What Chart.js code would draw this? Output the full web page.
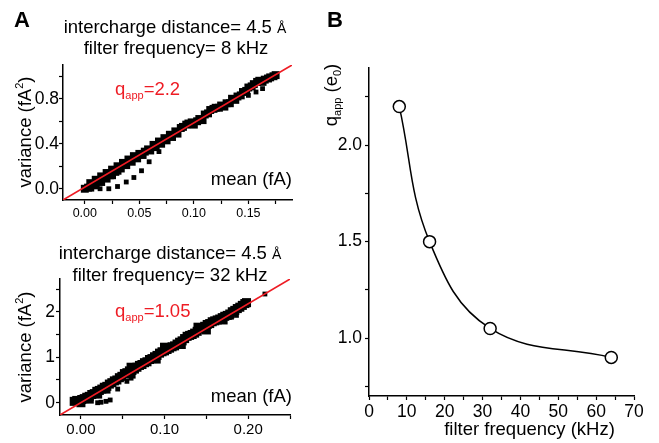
<!DOCTYPE html>
<html><head><meta charset="utf-8">
<script src="https://cdn.jsdelivr.net/npm/chart.js@4.4.1/dist/chart.umd.min.js"></script>
<style>
html,body{margin:0;padding:0;background:#fff;}
body{width:659px;height:443px;position:relative;overflow:hidden;}
canvas{position:absolute;}
</style></head><body>
<canvas id="c1" width="330" height="220" style="left:0px;top:0px"></canvas>
<canvas id="c2" width="330" height="223" style="left:0px;top:220px"></canvas>
<canvas id="c3" width="339" height="443" style="left:320px;top:0px"></canvas>
<script>
// ---------- DATA ----------
// Panel A top (8 kHz): mean (fA) vs variance (fA^2) — dense band
const topMean = [0.000,0.003,0.005,0.008,0.010,0.013,0.015,0.018,0.020,0.023,0.025,0.028,0.030,0.033,0.035,0.038,0.040,0.043,0.045,0.048,0.050,0.053,0.055,0.058,0.060,0.063,0.065,0.068,0.070,0.073,0.075,0.078,0.080,0.083,0.085,0.088,0.090,0.093,0.095,0.098,0.100,0.103,0.105,0.108,0.110,0.113,0.115,0.118,0.120,0.123,0.125,0.128,0.130,0.133,0.135,0.138,0.140,0.143,0.145,0.148,0.150,0.153,0.155,0.158,0.160,0.163,0.165,0.168,0.170,0.173,0.175,
  0.005,0.010,0.015,0.020,0.025,0.030];
const topVar = [0.00,0.01,0.05,0.04,0.08,0.07,0.11,0.10,0.14,0.12,0.17,0.15,0.20,0.18,0.23,0.21,0.26,0.24,0.29,0.27,0.31,0.30,0.33,0.35,0.34,0.39,0.37,0.42,0.40,0.45,0.43,0.48,0.46,0.51,0.49,0.54,0.55,0.57,0.58,0.59,0.57,0.60,0.62,0.61,0.66,0.67,0.70,0.71,0.72,0.72,0.74,0.73,0.76,0.76,0.80,0.79,0.82,0.83,0.86,0.87,0.90,0.91,0.93,0.95,0.96,0.95,0.97,0.98,0.99,1.00,1.01,
  0.01,0.03,0.06,0.09,0.12,0.16];
// Panel A top — scattered points off the band
const topOutMean = [0.014,0.022,0.030,0.038,0.045,0.052,0.059,0.068,0.150,0.157,0.163];
const topOutVar = [0.00,0.00,0.02,0.06,0.10,0.16,0.24,0.33,0.83,0.86,0.89];
const topFitMean = [-0.02, 0.19];
const topFitVar = [-0.10, 1.10];

// Panel A bottom (32 kHz) — dense band
const botMean = [-0.008,-0.005,-0.002,0.001,0.004,0.007,0.010,0.013,0.016,0.019,0.022,0.025,0.028,0.031,0.034,0.037,0.040,0.043,0.046,0.049,0.052,0.055,0.058,0.061,0.064,0.067,0.070,0.073,0.076,0.079,0.082,0.085,0.088,0.091,0.094,0.097,0.100,0.103,0.106,0.109,0.112,0.115,0.118,0.121,0.124,0.127,0.130,0.133,0.136,0.139,0.142,0.145,0.148,0.151,0.154,0.157,0.160,0.163,0.166,0.169,0.172,0.175,0.178,0.181,0.184,0.187,0.190,0.193,0.196,0.198,
  0.000,0.010,0.020,0.030,0.060,0.090,0.120,0.150,0.170,0.060,0.100,0.140];
const botVar = [0.03,0.05,0.04,0.07,0.09,0.12,0.14,0.18,0.20,0.25,0.27,0.30,0.34,0.36,0.41,0.44,0.48,0.50,0.55,0.58,0.64,0.66,0.70,0.71,0.74,0.78,0.82,0.84,0.88,0.90,0.95,0.97,1.01,1.04,1.09,1.12,1.14,1.17,1.20,1.23,1.25,1.29,1.33,1.36,1.41,1.46,1.48,1.50,1.53,1.57,1.62,1.64,1.68,1.72,1.74,1.78,1.80,1.82,1.84,1.87,1.90,1.92,1.95,2.00,2.03,2.07,2.10,2.14,2.18,2.20,
  0.00,0.08,0.19,0.30,0.63,0.96,1.28,1.60,1.82,0.78,1.22,1.66];
// Panel A bottom — scattered points off the band
const botOutMean = [0.020,0.024,0.030,0.035,0.044,0.055,0.060,0.180,0.186,0.220];
const botOutVar = [0.00,0.01,0.03,0.06,0.30,0.47,0.54,1.88,1.92,2.39];
const botFitMean = [-0.025, 0.25];
const botFitVar = [-0.27, 2.72];

// Panel B
const filterFreq = [8, 16, 32, 64];
const qApp = [2.2, 1.5, 1.05, 0.9];

// Tick values and labels
const topXTicks = [0,0.025,0.05,0.075,0.1,0.125,0.15,0.175];
const topXMajor = [0,0.05,0.1,0.15];
const topXLabels = ['0.00','0.05','0.10','0.15'];
const topYTicks = [0,0.2,0.4,0.6,0.8,1.0];
const topYMajor = [0,0.4,0.8];
const topYLabels = ['0.0','0.4','0.8'];
const botXTicks = [0,0.05,0.1,0.15,0.2,0.25];
const botXMajor = [0,0.1,0.2];
const botXLabels = ['0.00','0.10','0.20'];
const botYTicks = [0,0.5,1,1.5,2,2.5];
const botYMajor = [0,1,2];
const botYLabels = ['0','1','2'];
const bXTicks = [0,5,10,15,20,25,30,35,40,45,50,55,60,65,70];
const bXMajor = [0,10,20,30,40,50,60,70];
const bXLabels = ['0','10','20','30','40','50','60','70'];
const bYTicks = [0.75,1,1.25,1.5,1.75,2,2.25];
const bYMajor = [1,1.5,2];
const bYLabels = ['1.0','1.5','2.0'];

// ---------- RENDERING ----------
const FF = 'Arial, "Liberation Sans", Helvetica, sans-serif';
const RED = '#ee1c24';
Chart.defaults.font.family = FF;

function drawRich(ctx, it) {
  ctx.save();
  ctx.translate(it.x, it.y);
  if (it.rot) ctx.rotate(it.rot);
  ctx.fillStyle = it.color || '#000';
  ctx.textBaseline = 'alphabetic';
  ctx.textAlign = 'left';
  const fonts = it.segs.map(s => (s.bold ? 'bold ' : '') + s.size + 'px ' + FF);
  const widths = it.segs.map((s, i) => { ctx.font = fonts[i]; return ctx.measureText(s.t).width; });
  const total = widths.reduce((a, b) => a + b, 0);
  let cx = it.align === 'center' ? -total / 2 : it.align === 'right' ? -total : 0;
  it.segs.forEach((s, i) => { ctx.font = fonts[i]; ctx.fillText(s.t, cx, s.dy || 0); cx += widths[i]; });
  ctx.restore();
}
function textPlugin(items) {
  return { id: 'txt', afterDraw(chart) { items.forEach(it => drawRich(chart.ctx, it)); } };
}
function pairs(xs, ys) { return xs.map((x, i) => ({ x, y: ys[i] })); }

function axis(min, max, tickVals, majors, labels, size, pad, fit) {
  return {
    type: 'linear', min, max, bounds: 'data',
    afterBuildTicks: s => { s.ticks = tickVals.map(v => ({ value: v })); },
    afterFit: fit,
    border: { display: true, color: '#000', width: 1.5 },
    grid: { display: true, drawOnChartArea: false, drawTicks: true, tickLength: 4, tickColor: '#000', tickWidth: 1.2 },
    ticks: {
      autoSkip: false, maxRotation: 0, minRotation: 0, padding: pad, color: '#000',
      font: { family: FF, size },
      callback: v => { const i = majors.findIndex(m => Math.abs(m - v) < 1e-9); return i >= 0 ? labels[i] : ''; }
    }
  };
}
function baseOpts(padding, xAxis, yAxis) {
  return {
    responsive: false, animation: false, devicePixelRatio: 1, events: [],
    layout: { padding },
    plugins: { legend: { display: false }, tooltip: { enabled: false }, title: { display: false } },
    scales: { x: xAxis, y: yAxis }
  };
}
const S = 18.5;

// Panel A top
new Chart(document.getElementById('c1'), {
  type: 'scatter',
  data: { datasets: [
    { data: pairs(topFitMean, topFitVar), showLine: true, borderColor: RED, borderWidth: 1.6, pointRadius: 0, fill: false },
    { data: pairs(topMean, topVar), pointStyle: 'rect', pointRadius: 5.6, backgroundColor: '#000', borderWidth: 0 },
    { data: pairs(topOutMean, topOutVar), pointStyle: 'rect', pointRadius: 3.4, backgroundColor: '#000', borderWidth: 0 }
  ]},
  options: baseOpts({ top: 65, right: 38, left: 0, bottom: 0 },
    axis(-0.02, 0.19, topXTicks, topXMajor, topXLabels, 12.5, 2, s => { s.height = 20; }),
    axis(-0.1, 1.1, topYTicks, topYMajor, topYLabels, 17.5, 0, s => { s.width = 63; })),
  plugins: [textPlugin([
    { x: 14, y: 27, segs: [{ t: 'A', size: 22, bold: true }] },
    { x: 175, y: 33, align: 'center', segs: [{ t: 'intercharge distance= 4.5 ', size: S }, { t: 'Å', size: 14 }] },
    { x: 176, y: 54, align: 'center', segs: [{ t: 'filter frequency= 8 kHz', size: S }] },
    { x: 115, y: 95, color: RED, segs: [{ t: 'q', size: S }, { t: 'app', size: 11, dy: 4 }, { t: '=2.2', size: S }] },
    { x: 292, y: 185, align: 'right', segs: [{ t: 'mean (fA)', size: S }] },
    { x: 31, y: 132, align: 'center', rot: -Math.PI / 2, segs: [{ t: 'variance (fA', size: S }, { t: '2', size: 11, dy: -8 }, { t: ')', size: S }] }
  ])]
});

// Panel A bottom
new Chart(document.getElementById('c2'), {
  type: 'scatter',
  data: { datasets: [
    { data: pairs(botFitMean, botFitVar), showLine: true, borderColor: RED, borderWidth: 1.6, pointRadius: 0, fill: false },
    { data: pairs(botMean, botVar), pointStyle: 'rect', pointRadius: 6.4, backgroundColor: '#000', borderWidth: 0 },
    { data: pairs(botOutMean, botOutVar), pointStyle: 'rect', pointRadius: 3.4, backgroundColor: '#000', borderWidth: 0 }
  ]},
  options: baseOpts({ top: 59, right: 40, left: 0, bottom: 0 },
    axis(-0.025, 0.25, botXTicks, botXMajor, botXLabels, 15, 2, s => { s.height = 28; }),
    axis(-0.27, 2.72, botYTicks, botYMajor, botYLabels, 17.5, 1, s => { s.width = 60; })),
  plugins: [textPlugin([
    { x: 170, y: 39, align: 'center', segs: [{ t: 'intercharge distance= 4.5 ', size: S }, { t: 'Å', size: 14 }] },
    { x: 170, y: 60.5, align: 'center', segs: [{ t: 'filter frequency= 32 kHz', size: S }] },
    { x: 115, y: 96.5, color: RED, segs: [{ t: 'q', size: S }, { t: 'app', size: 11, dy: 4 }, { t: '=1.05', size: S }] },
    { x: 292, y: 181.5, align: 'right', segs: [{ t: 'mean (fA)', size: S }] },
    { x: 31, y: 127, align: 'center', rot: -Math.PI / 2, segs: [{ t: 'variance (fA', size: S }, { t: '2', size: 11, dy: -8 }, { t: ')', size: S }] }
  ])]
});

// Panel B
new Chart(document.getElementById('c3'), {
  type: 'scatter',
  data: { datasets: [
    { data: pairs(filterFreq, qApp), showLine: true, tension: 0.4, borderColor: '#000', borderWidth: 1.5,
      pointRadius: 6, pointBackgroundColor: '#fff', pointBorderColor: '#000', pointBorderWidth: 1.5, fill: false }
  ]},
  options: baseOpts({ top: 68, right: 25, left: 0, bottom: 0 },
    axis(0, 70, bXTicks, bXMajor, bXLabels, 17.5, 2, s => { s.height = 47; }),
    axis(0.7, 2.4, bYTicks, bYMajor, bYLabels, 17.5, 3, s => { s.width = 49; })),
  plugins: [textPlugin([
    { x: 7, y: 27, segs: [{ t: 'B', size: 22, bold: true }] },
    { x: 17, y: 95, align: 'center', rot: -Math.PI / 2, segs: [{ t: 'q', size: S }, { t: 'app', size: 11, dy: 4 }, { t: ' (e', size: S }, { t: '0', size: 11, dy: 4 }, { t: ')', size: S }] },
    { x: 209.5, y: 435, align: 'center', segs: [{ t: 'filter frequency (kHz)', size: S }] }
  ])]
});
</script>
</body></html>
